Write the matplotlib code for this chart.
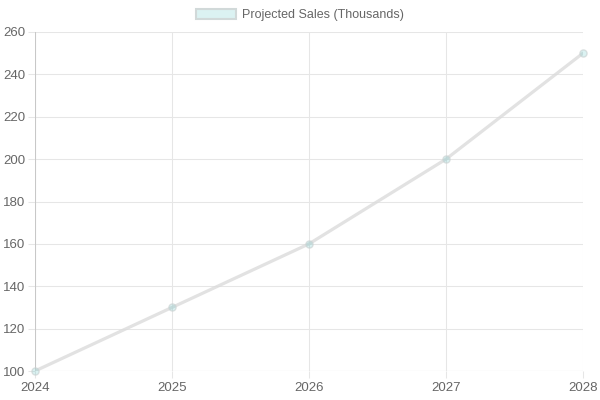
import matplotlib
matplotlib.use('Agg')
import matplotlib.pyplot as plt
from matplotlib.patches import Patch

years = [2024, 2025, 2026, 2027, 2028]
sales = [100, 130, 160, 200, 250]
y_ticks = [100, 120, 140, 160, 180, 200, 220, 240, 260]
label = 'Projected Sales (Thousands)'

plt.rcParams['font.family'] = ['Liberation Sans', 'DejaVu Sans']

fig = plt.figure(figsize=(6, 4), dpi=100)
ax = fig.add_axes([35 / 600, 29 / 400, 548 / 600, 339 / 400])

ax.plot(years, sales, color=(0.86, 0.86, 0.86, 0.8), lw=2.3, solid_capstyle='round', zorder=3)
ax.scatter(years, sales, s=26, facecolor=(75/255, 192/255, 192/255, 0.2),
           edgecolor=(0.8, 0.83, 0.83, 0.7), lw=1, zorder=4, clip_on=False)

ax.set_xlim(2024, 2028)
ax.set_ylim(100, 260)
ax.set_xticks(years)
ax.set_yticks(y_ticks)
ax.grid(True, color='#e6e6e6', lw=0.75)
ax.set_axisbelow(True)
for s in ax.spines.values():
    s.set_visible(False)
ax.axvline(2024, color='#c8c8c8', lw=0.75, zorder=1)
ax.axhline(100, color='#c8c8c8', lw=0.75, zorder=1)
ax.tick_params(length=5, width=0.75, color='#e6e6e6', labelsize=9.5, colors='#666666', pad=3)
ax.tick_params(color='#e6e6e6')
ax.tick_params(axis='y', pad=2)

handle = Patch(facecolor=(75/255, 192/255, 192/255, 0.2), edgecolor=(0.82, 0.85, 0.85), lw=1.5)
fig.legend([handle], [label], loc='center', bbox_to_anchor=(0.5, 0.962), frameon=False,
           fontsize=9, labelcolor='#666666', handlelength=3.2, handleheight=0.9,
           handletextpad=0.45)

fig.savefig('out.png', dpi=100)
